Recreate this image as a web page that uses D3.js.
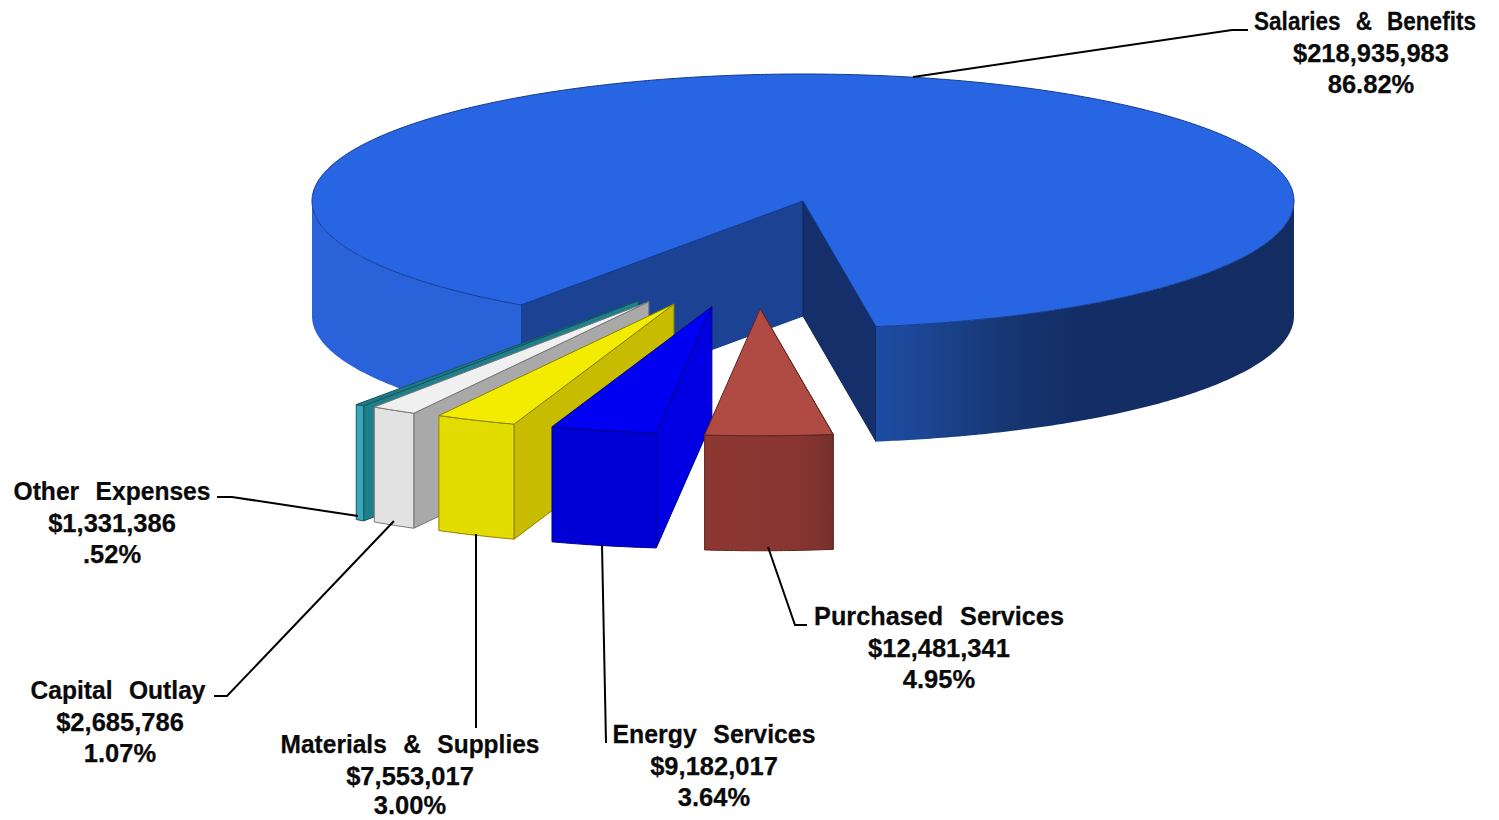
<!DOCTYPE html>
<html>
<head>
<meta charset="utf-8">
<script src="https://cdn.jsdelivr.net/npm/d3@7"></script>
<style>
  html, body { margin: 0; padding: 0; background: #fff; }
  svg { display: block; }
  text { font-family: "Liberation Sans", Arial, sans-serif; font-weight: 700; fill: #0a0a0a; stroke: #0a0a0a; stroke-width: 0.25; }
</style>
</head>
<body>
<svg id="chart" width="1499" height="820"></svg>
<script>
// Expense categories, listed clockwise starting at the front of the pie.
const categories = ["Purchased Services", "Energy Services", "Materials & Supplies", "Capital Outlay", "Other Expenses", "Salaries & Benefits"];
const amounts = [12481341, 9182017, 7553017, 2685786, 1331386, 218935983];
const shareLabels = ["4.95%", "3.64%", "3.00%", "1.07%", ".52%", "86.82%"];

// Face colours per category.
const topColors = ["#b04b43", "#0000f2", "#f4ec00", "#f0f0f0", "#1f7a84", "#2865e3"];
const frontColors = ["url(#purchasedFront)", "#0000d6", "#e2dc00", "#e2e2e2", "#3aa6b9", "#2a62da"];
const sideColors = ["#8a3631", "#0000e2", "#c8bc00", "#a9a9a9", "#1f7f8c", "#1c4393"];
const edgeColors = ["#5f2420", "#00008c", "#8a8200", "#777777", "#14565e", "#123a8c"];

// Pie geometry.
const cx = 803, cy = 201, rx = 491, ry = 127, depth = 115;
const startDeg = -8.55;               // clockwise from straight down
const viewKnots = [6.5, 19.0, 28.6, 34.0, 35.05, 351.45]; // foreshortened slice boundaries
const explodeRadius = 0.853;

const toDeg = r => r * 180 / Math.PI, toRad = d => d * Math.PI / 180;

const arcs = d3.pie().sort(null).startAngle(0).endAngle(2 * Math.PI)(amounts);
const sweep = d3.scaleLinear()
  .domain([0, ...arcs.map(a => toDeg(a.endAngle))])
  .range([startDeg, ...viewKnots]);
const explodeDirection = d3.scaleLinear().domain([-1, 34.8]).range([5.88, 23.3]);

const slices = arcs.map((a, i) => {
  const from = sweep(toDeg(a.startAngle)), to = sweep(toDeg(a.endAngle));
  const exploded = categories[i] !== "Salaries & Benefits";
  const dir = toRad(explodeDirection((from + to) / 2));
  return {
    i, from, to,
    ox: exploded ? -rx * explodeRadius * Math.sin(dir) : 0,
    oy: exploded ? ry * explodeRadius * Math.cos(dir) : 0
  };
});

// Projected point on a slice: phi in degrees clockwise from straight down, r in 0..1, h is drop below the top face.
const point = (s, phi, r = 1, h = 0) => [
  cx + s.ox - rx * r * Math.sin(toRad(phi)),
  cy + s.oy + ry * r * Math.cos(toRad(phi)) + h
];
const samples = (a, b) => {
  const n = Math.max(2, Math.ceil(Math.abs(b - a) * 2));
  return d3.range(n + 1).map(k => a + (b - a) * k / n);
};
const line = d3.line().curve(d3.curveLinear);

const svg = d3.select("#chart");
const defs = svg.append("defs");

function gradient(id, x1, x2, stops) {
  const g = defs.append("linearGradient").attr("id", id)
    .attr("gradientUnits", "userSpaceOnUse")
    .attr("x1", x1).attr("x2", x2).attr("y1", 0).attr("y2", 0);
  stops.forEach(([o, c]) => g.append("stop").attr("offset", o).attr("stop-color", c));
}
gradient("salaryFront", 876, 1294, [[0, "#1e4ba3"], [0.12, "#1c4693"], [0.3, "#163773"], [0.48, "#132d66"], [1, "#132d63"]]);
gradient("purchasedFront", 706, 833, [[0, "#8c3732"], [0.75, "#883531"], [1, "#76302c"]]);

const face = (pts, fill, stroke) => svg.append("path")
  .attr("d", line(pts) + "Z")
  .attr("fill", fill)
  .attr("stroke", stroke || "none")
  .attr("stroke-width", stroke ? 1 : 0)
  .attr("stroke-linejoin", "round");

const wall = (s, phi, fill, stroke) => face([
  point(s, phi, 0), point(s, phi, 1),
  point(s, phi, 1, depth), point(s, phi, 0, depth)
], fill, stroke);

const outer = (s, a, b, fill, stroke) => {
  const top = samples(a, b).map(p => point(s, p));
  const bottom = samples(b, a).map(p => point(s, p, 1, depth));
  return face(top.concat(bottom), fill, stroke);
};

const topFace = (s, fill, stroke) => {
  const pts = [point(s, s.from, 0)].concat(samples(s.from, s.to).map(p => point(s, p)));
  return face(pts, fill, stroke);
};

// The large slice sits behind everything else.
const main = slices[5];
wall(main, main.from, sideColors[5], edgeColors[5]);
wall(main, main.to, "#142f69", "#102655");
outer(main, main.from, 90, frontColors[5]);
outer(main, 270, main.to, "url(#salaryFront)");
topFace(main, topColors[5], edgeColors[5]);

// Pulled-out slices, back to front.
[4, 3, 2, 1, 0].forEach(i => {
  const s = slices[i];
  wall(s, s.from, sideColors[i], edgeColors[i]);
  outer(s, s.from, s.to, frontColors[i], edgeColors[i]);
  topFace(s, topColors[i], edgeColors[i]);
});

// Leader lines and three-line labels, placed by category.
const headerCentres = [939, 714, 410, 118, 112, 1365];
const labelCentres = [939, 714, 410, 120, 112, 1371];
const labelRows = [625, 743, 753, 699, 500, 30];    // baseline of each header
const shareOffsets = [63, 63, 61, 63, 63, 63];      // header baseline to share baseline
const leaders = [
  [[768, 547], [795, 625], [807, 625]],
  [[602, 545], [606, 743]],
  [[476, 534], [476, 728]],
  [[394, 521], [227, 696], [214, 696]],
  [[358, 516], [232, 497], [217, 497]],
  [[913, 77], [1232, 30], [1248, 30]]
];
const headerWidths = [250, 203, 259, 175, 197, 222];

const fmt = d3.format("$,");
const label = (x, y, content) => svg.append("text")
  .attr("x", x).attr("y", y)
  .attr("text-anchor", "middle").attr("font-size", 25.5)
  .text(content);

categories.forEach((name, i) => {
  svg.append("path").attr("d", line(leaders[i]))
    .attr("fill", "none").attr("stroke", "#000").attr("stroke-width", 2);

  // Headers carry wider word gaps and are scaled to their set width.
  const header = label(0, 0, name).attr("word-spacing", 10);
  const fit = headerWidths[i] / header.node().getComputedTextLength();
  header.attr("transform", `translate(${headerCentres[i]},${labelRows[i]}) scale(${fit},1)`);

  label(labelCentres[i], labelRows[i] + 32, fmt(amounts[i]));
  label(labelCentres[i], labelRows[i] + shareOffsets[i], shareLabels[i]);
});
</script>
</body>
</html>
